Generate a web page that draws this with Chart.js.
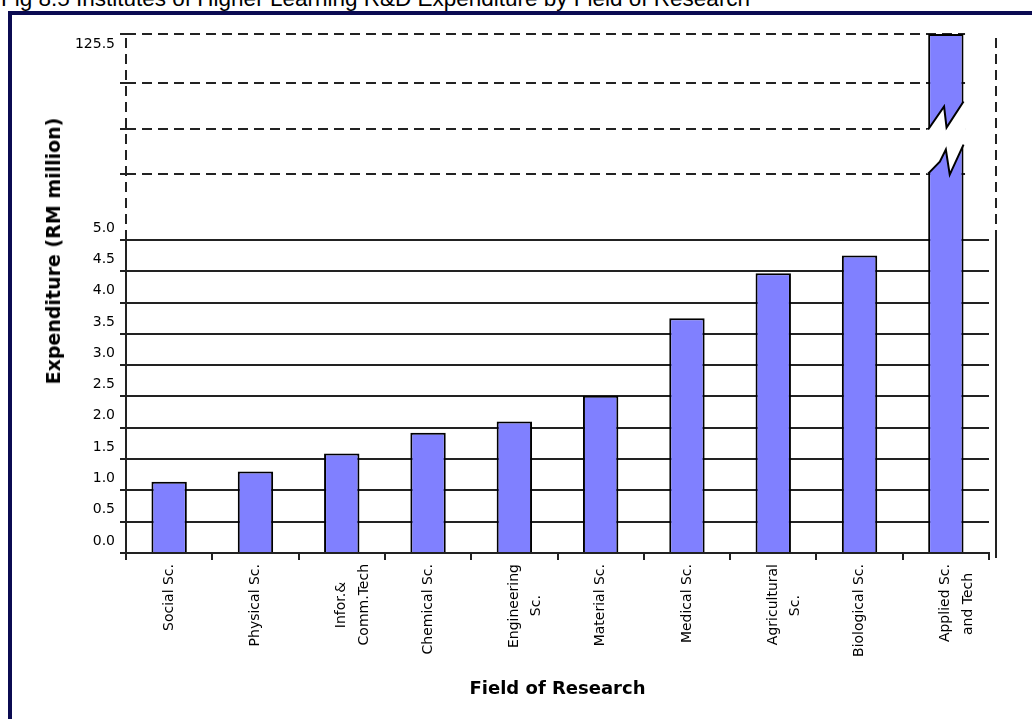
<!DOCTYPE html>
<html><head><meta charset="utf-8">
<script src="https://cdn.jsdelivr.net/npm/chart.js@4"></script>
<style>
html,body{margin:0;padding:0;background:#fff;width:1032px;height:719px;overflow:hidden;position:relative}
#frame{position:absolute;left:8px;top:11px;width:1100px;height:800px;border-left:4px solid #0b0b52;border-top:4px solid #0b0b52;box-sizing:border-box}
#title{position:absolute;left:1px;top:-12px;font:22.5px "Liberation Sans",Arial,sans-serif;line-height:22.5px;white-space:nowrap;color:#000}
#ytitle{position:absolute;left:53px;top:251px;transform:translate(-50%,-50%) rotate(-90deg);font:bold 19px "DejaVu Sans";white-space:nowrap;color:#000}
canvas{position:absolute;left:0;top:0}
</style></head><body>
<div id="frame"></div>
<div id="title">Fig 8.5 Institutes of Higher Learning R&amp;D Expenditure by Field of Research</div>
<canvas id="c" width="1032" height="719"></canvas>
<div id="ytitle">Expenditure (RM million)</div>
<script>
const categories = [
  'Social Sc.', 'Physical Sc.', ['Infor.&', 'Comm.Tech'], 'Chemical Sc.', ['Engineering', 'Sc.'],
  'Material Sc.', 'Medical Sc.', ['Agricultural', 'Sc.'], 'Biological Sc.', ['Applied Sc.', 'and Tech']
];
const expenditure = [1.14, 1.30, 1.59, 1.92, 2.10, 2.51, 3.75, 4.47, 4.75, 125.5];
const lowerTicks = [0, 0.5, 1.0, 1.5, 2.0, 2.5, 3.0, 3.5, 4.0, 4.5, 5.0];
const breakStart = 5.0;          // axis is linear up to this value
const axisTopValue = 125.5;      // value shown at top of broken axis
const upperGuides = [6.06, 6.78, 7.51, 8.29]; // dashed guide lines above the break (axis units)
const displayTop = upperGuides[upperGuides.length - 1];

const toDisplay = v => v <= breakStart ? v :
  breakStart + (v - breakStart) * (displayTop - breakStart) / (axisTopValue - breakStart);
const yTickValues = lowerTicks.concat(upperGuides);

const mctx = document.createElement('canvas').getContext('2d');
mctx.font = '14px "DejaVu Sans"';
function centerLines(lbl) {
  if (!Array.isArray(lbl)) return lbl;
  const widths = lbl.map(s => mctx.measureText(s).width);
  const maxW = Math.max(...widths);
  const sp = mctx.measureText(' ').width;
  return lbl.map((s, i) => s + ' '.repeat(Math.round((maxW - widths[i]) / 2 / sp)));
}

const lineCol = '#222';

const axisLinesPlugin = {
  id: 'axisLines',
  afterDatasetsDraw(chart) {
    const {ctx, chartArea: a, scales: {y}} = chart;
    const yb = y.getPixelForValue(breakStart);
    ctx.save();
    ctx.strokeStyle = lineCol; ctx.lineWidth = 2;
    [[a.left, a.bottom], [a.right + 7, a.bottom + 5]].forEach(([x, b]) => {
      ctx.setLineDash([]);
      ctx.beginPath(); ctx.moveTo(x, b); ctx.lineTo(x, yb); ctx.stroke();
      ctx.setLineDash([10, 6]);
      ctx.beginPath(); ctx.moveTo(x, yb); ctx.lineTo(x, a.top); ctx.stroke();
    });
    ctx.restore();
  }
};

const breakPlugin = {
  id: 'axisBreak',
  afterDatasetsDraw(chart) {
    const {ctx, chartArea: a, scales: {y}} = chart;
    const meta = chart.getDatasetMeta(0);
    expenditure.forEach((v, i) => {
      if (v <= breakStart) return;
      const el = meta.data[i];
      const w = el.width, L = el.x - w / 2, R = el.x + w / 2;
      const yU = y.getPixelForValue(upperGuides[1]);
      const yL = y.getPixelForValue(upperGuides[0]);
      const yb = y.getPixelForValue(breakStart);
      const up = [[L, yU + 1], [L + 0.45 * w, yU - 22], [L + 0.52 * w, yU - 1], [R, yU - 27]];
      const lo = [[L, yL], [L + 0.33 * w, yL - 12], [L + 0.5 * w, yL - 24], [L + 0.61 * w, yL + 1], [R, yL - 29]];
      ctx.save();
      ctx.fillStyle = '#fff';
      // dashed guides stop at the broken bar
      ctx.fillRect(R + 1.5, a.top - 3, a.right - R - 1, yb - a.top - 2);
      ctx.beginPath();
      ctx.moveTo(L - 1.5, yU + 1);
      up.forEach(([px, py]) => ctx.lineTo(px, py));
      ctx.lineTo(R + 1.5, yU - 27);
      ctx.lineTo(R + 1.5, yL - 29);
      lo.slice().reverse().forEach(([px, py]) => ctx.lineTo(px, py));
      ctx.lineTo(L - 1.5, yL);
      ctx.closePath();
      ctx.fill();
      ctx.strokeStyle = '#000'; ctx.lineWidth = 2;
      [up, lo].forEach(pts => {
        ctx.beginPath();
        pts.forEach(([px, py], k) => k ? ctx.lineTo(px, py) : ctx.moveTo(px, py));
        ctx.stroke();
      });
      ctx.restore();
    });
  }
};

new Chart(document.getElementById('c'), {
  type: 'bar',
  data: {
    labels: categories,
    datasets: [{
      data: expenditure.map(toDisplay),
      backgroundColor: '#8080ff',
      borderColor: '#000',
      borderWidth: 2,
      barPercentage: 0.41,
      categoryPercentage: 1
    }]
  },
  options: {
    responsive: false,
    animation: false,
    devicePixelRatio: 1,
    layout: {padding: {left: 60, top: 34, right: 43, bottom: 0}},
    plugins: {legend: {display: false}, tooltip: {enabled: false}},
    scales: {
      x: {
        offset: true,
        grid: {display: true, drawOnChartArea: false, drawTicks: true, tickLength: 7, color: lineCol, lineWidth: 2, offset: true},
        border: {display: true, color: lineCol, width: 2},
        ticks: {
          color: '#000', font: {family: 'DejaVu Sans', size: 14, lineHeight: 1.6},
          maxRotation: 90, minRotation: 90, padding: 4, autoSkip: false,
          callback: (v, i) => centerLines(categories[i])
        },
        title: {
          display: true, text: 'Field of Research', color: '#000',
          font: {family: 'DejaVu Sans', size: 18, weight: 'bold', lineHeight: 1.2},
          padding: {top: 0, bottom: 19}
        },
        afterFit: s => { s.height = 166; }
      },
      y: {
        min: 0, max: displayTop,
        afterBuildTicks: s => { s.ticks = yTickValues.map(v => ({value: v})); },
        grid: {color: lineCol, lineWidth: 2, tickLength: 6, drawTicks: true},
        border: {display: false, dash: ctx => (ctx.tick && ctx.tick.value > breakStart) ? [10, 6] : []},
        ticks: {
          color: '#000', font: {family: 'DejaVu Sans', size: 14, lineHeight: 3.24},
          padding: 5, labelOffset: -12, autoSkip: false,
          callback: v => v <= breakStart ? v.toFixed(1) : (v === displayTop ? ['', axisTopValue.toFixed(1)] : '')
        },
        afterFit: s => { s.width = 66; s.paddingTop = 0; s.paddingBottom = 0; }
      }
    }
  },
  plugins: [axisLinesPlugin, breakPlugin]
});
</script>
</body></html>
